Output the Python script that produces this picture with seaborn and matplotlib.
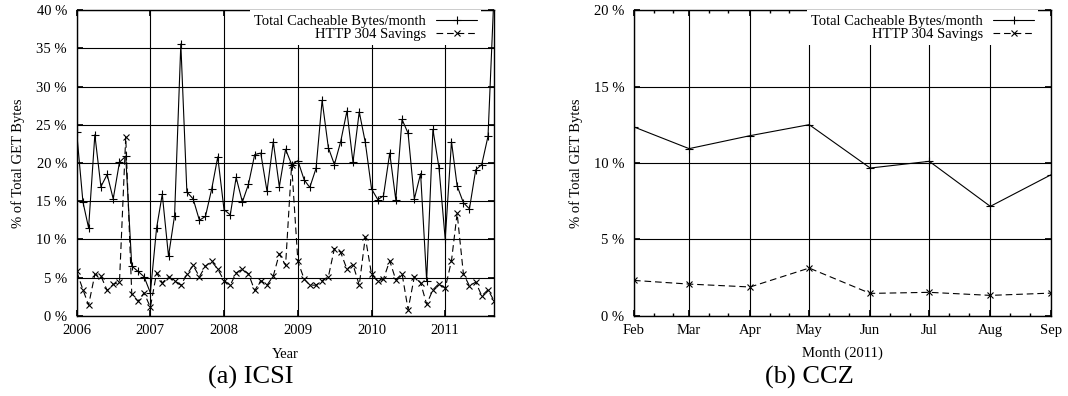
import matplotlib
matplotlib.use('Agg')
import matplotlib.pyplot as plt
import matplotlib.dates as mdates
import matplotlib.ticker as mticker
import pandas as pd
import seaborn as sns

# ICSI: monthly values, Jan 2006 .. Sep 2011 (% of total GET bytes)
icsi_start = '2006-01-01'
icsi_total = [24.0, 14.9, 11.5, 23.7, 16.9, 18.5, 15.3, 20.1, 20.9, 6.5,
              5.8, 5.1, 3.0, 11.5, 15.9, 7.8, 13.1, 35.6, 16.2, 15.3,
              12.5, 13.0, 16.6, 20.8, 13.9, 13.2, 18.1, 14.9, 17.2, 21.1,
              21.3, 16.3, 22.8, 16.9, 21.8, 19.8, 20.3, 17.8, 16.8, 19.3,
              28.2, 22.0, 19.8, 22.8, 26.8, 20.1, 26.7, 22.7, 16.6, 15.2,
              15.7, 21.3, 15.2, 25.7, 23.9, 15.3, 18.6, 4.6, 24.4, 19.4,
              10.0, 22.8, 17.0, 14.8, 14.0, 19.1, 19.8, 23.5, 43.0]
icsi_304 = [5.8, 3.4, 1.4, 5.4, 5.2, 3.3, 4.1, 4.4, 23.4, 2.8,
            1.9, 3.0, 1.1, 5.6, 4.3, 5.1, 4.6, 4.0, 5.4, 6.6,
            5.1, 6.5, 7.1, 6.1, 4.6, 4.0, 5.6, 6.1, 5.5, 3.3,
            4.6, 4.0, 5.2, 8.1, 6.6, 19.8, 7.1, 4.8, 4.0, 4.0,
            4.6, 5.1, 8.8, 8.3, 6.1, 6.7, 4.0, 10.3, 5.4, 4.5,
            4.8, 7.2, 4.7, 5.5, 0.8, 5.1, 4.3, 1.5, 3.4, 4.2,
            3.6, 7.2, 13.4, 5.5, 3.9, 4.4, 2.6, 3.4, 1.9]

# CCZ: Feb .. Sep 2011
ccz_months = ['2011-02-01', '2011-03-01', '2011-04-01', '2011-05-01',
              '2011-06-01', '2011-07-01', '2011-08-01', '2011-09-01']
ccz_total = [12.36, 10.94, 11.79, 12.51, 9.67, 10.11, 7.16, 9.24]
ccz_304 = [2.31, 2.07, 1.88, 3.12, 1.46, 1.53, 1.33, 1.48]

series_labels = ['Total Cacheable Bytes/month', 'HTTP 304 Savings']
ylabel = '% of Total GET Bytes'

icsi = pd.DataFrame({'date': pd.date_range(icsi_start, periods=len(icsi_total), freq='MS'),
                     'total': icsi_total, 'saving': icsi_304})
ccz = pd.DataFrame({'date': pd.to_datetime(ccz_months), 'total': ccz_total, 'saving': ccz_304})

sns.set_theme(style='ticks')
plt.rcParams.update({
    'font.family': ['Liberation Serif', 'DejaVu Serif'],
    'font.size': 10.5,
    'text.color': 'black',
    'axes.labelcolor': 'black',
    'axes.edgecolor': 'black',
    'axes.linewidth': 1.0,
    'xtick.color': 'black',
    'ytick.color': 'black',
    'xtick.labelsize': 10.5,
    'ytick.labelsize': 10.5,
    'axes.labelsize': 10.5,
    'xtick.direction': 'in',
    'ytick.direction': 'in',
    'xtick.top': True,
    'ytick.right': True,
    'xtick.major.size': 4,
    'ytick.major.size': 4,
    'xtick.minor.size': 2.5,
    'xtick.major.pad': 6,
    'ytick.major.pad': 7,
})

fig = plt.figure(figsize=(10.68, 3.96), dpi=100)
ax1 = fig.add_axes([0.0718, 0.2028, 0.391, 0.7712])
ax2 = fig.add_axes([0.5936, 0.2028, 0.3908, 0.7712])


def draw_panel(ax, frame):
    sns.lineplot(data=frame, x='date', y='total', ax=ax, color='black', lw=0.8,
                 marker='+', markersize=5.5, markeredgewidth=0.8, markeredgecolor='black',
                 label=series_labels[0])
    sns.lineplot(data=frame, x='date', y='saving', ax=ax, color='black', lw=0.8,
                 linestyle=(0, (6, 3.5)), marker='x', markersize=4,
                 markeredgewidth=0.8, markeredgecolor='black', label=series_labels[1])
    ax.set_axisbelow(True)
    ax.grid(True, which='major', color='black', lw=0.8)
    ax.yaxis.set_major_locator(mticker.MultipleLocator(5))
    ax.yaxis.set_major_formatter(mticker.FuncFormatter(lambda v, p: f'{v:g} %'))
    ax.set_ylabel(ylabel, labelpad=8)
    leg = ax.legend(loc='upper right', bbox_to_anchor=(0.969, 1.0), markerfirst=False,
                    frameon=True, fancybox=False, edgecolor='none', facecolor='white',
                    framealpha=1, borderpad=0.3, borderaxespad=0, handlelength=2.8,
                    handletextpad=0.7, labelspacing=0.0, fontsize=10.5)
    leg._legend_box.align = 'right'


draw_panel(ax1, icsi)
ax1.set_xlim(icsi.date.min(), icsi.date.max())
ax1.set_ylim(0, 40)
ax1.xaxis.set_major_locator(mdates.YearLocator())
ax1.xaxis.set_major_formatter(mdates.DateFormatter('%Y'))
ax1.set_xlabel('Year', labelpad=8)

draw_panel(ax2, ccz)
ax2.set_xlim(ccz.date.min(), ccz.date.max())
ax2.set_ylim(0, 20)
ax2.xaxis.set_major_locator(mdates.MonthLocator())
ax2.xaxis.set_major_formatter(mdates.DateFormatter('%b'))
ax2.xaxis.set_minor_locator(mdates.DayLocator(bymonthday=[11, 21]))
ax2.set_xlabel('Month (2011)', labelpad=7)

fig.text(0.235, 1 - 377 / 396, '(a) ICSI', ha='center', va='center', fontsize=19)
fig.text(0.7575, 1 - 377 / 396, '(b) CCZ', ha='center', va='center', fontsize=19)

fig.savefig('out.png', dpi=100)
